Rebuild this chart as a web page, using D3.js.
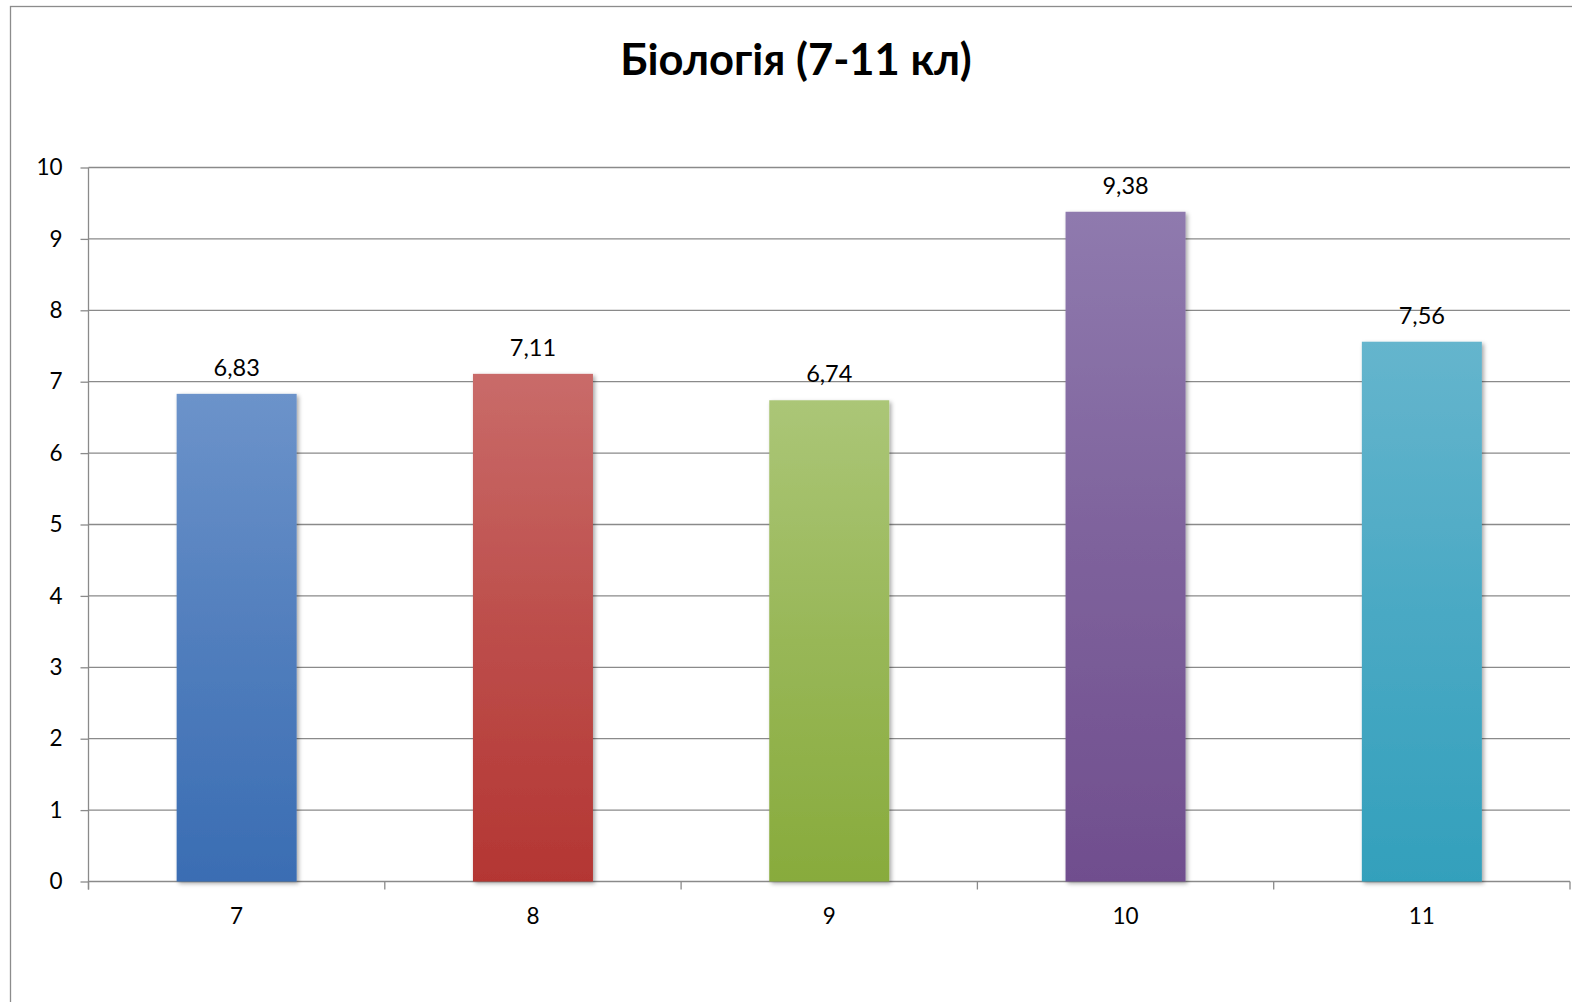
<!DOCTYPE html>
<html><head><meta charset="utf-8">
<script src="https://cdn.jsdelivr.net/npm/d3@7"></script>
<style>body{margin:0;background:#fff}svg{display:block}</style>
</head><body>
<svg id="c" width="1572" height="1002"></svg>
<script>
const categories = ["7","8","9","10","11"];
const values = [6.83, 7.11, 6.74, 9.38, 7.56];
const valueLabels = ["6,83","7,11","6,74","9,38","7,56"];
const yTicks = [0,1,2,3,4,5,6,7,8,9,10];
const colorsTop = ["#6c93ca","#c96b69","#abc677","#8f7aae","#65b5cd"];
const colorsBottom = ["#3a6db3","#b43633","#88ab3c","#704e8e","#33a0bc"];
const title = "Біологія (7-11 кл)";

const svg = d3.select("#c");
const font = "Lato, 'Open Sans', 'Noto Sans', sans-serif";
const m = {left:88.5, right:1570, top:167.5, bottom:881.5};

svg.append("rect").attr("x",10.5).attr("y",6.5).attr("width",1600).attr("height",1100)
  .attr("fill","#fff").attr("stroke","#8c8c8c").attr("stroke-width",1.3);

const defs = svg.append("defs");
categories.forEach((c,i)=>{
  const g = defs.append("linearGradient").attr("id","g"+i).attr("x1",0).attr("y1",0).attr("x2",0).attr("y2",1);
  g.append("stop").attr("offset","0%").attr("stop-color",colorsTop[i]);
  g.append("stop").attr("offset","50%").attr("stop-color",d3.interpolateRgb(colorsTop[i],colorsBottom[i])(0.55));
  g.append("stop").attr("offset","100%").attr("stop-color",colorsBottom[i]);
});
const f = defs.append("filter").attr("id","sh").attr("x","-10%").attr("y","-10%").attr("width","130%").attr("height","130%");
f.append("feDropShadow").attr("dx",2).attr("dy",2).attr("stdDeviation",2).attr("flood-color","#000").attr("flood-opacity",0.35);

const x = d3.scaleBand().domain(categories).range([m.left,m.right]).paddingInner(0.595).paddingOuter(0.2975);
const xb = d3.scaleBand().domain(categories).range([m.left,m.right]);
const y = d3.scaleLinear().domain([0,10]).range([m.bottom,m.top]);

// gridlines
svg.append("g").selectAll("line").data(yTicks.filter(d=>d>0)).join("line")
  .attr("x1",m.left).attr("x2",m.right).attr("y1",d=>y(d)).attr("y2",d=>y(d))
  .attr("stroke","#8a8a8a").attr("stroke-width",1.3);

// y axis
const ya = svg.append("g").attr("transform",`translate(${m.left},0)`)
  .call(d3.axisLeft(y).tickValues(yTicks).tickSize(8).tickPadding(18).tickFormat(d=>d));
ya.select(".domain").attr("stroke","#8a8a8a").attr("stroke-width",1.3).attr("d",`M-0,${m.top}V${m.bottom+8}`);
ya.selectAll(".tick line").attr("stroke","#8a8a8a").attr("stroke-width",1.3);
ya.selectAll("text").attr("font-family",font).attr("font-size",22.5).attr("fill","#000");

// x axis
const xa = svg.append("g").attr("transform",`translate(0,${m.bottom})`)
  .call(d3.axisBottom(x).tickSize(0).tickPadding(27));
xa.select(".domain").remove();
xa.selectAll("text").attr("font-family",font).attr("font-size",22.5).attr("fill","#000");
svg.append("line").attr("x1",m.left).attr("x2",m.right).attr("y1",m.bottom).attr("y2",m.bottom)
  .attr("stroke","#8a8a8a").attr("stroke-width",1.3);
svg.append("g").selectAll("line").data(categories.concat(["end"])).join("line")
  .attr("x1",(d,i)=> i<categories.length ? xb(d) : m.right)
  .attr("x2",(d,i)=> i<categories.length ? xb(d) : m.right)
  .attr("y1",m.bottom).attr("y2",m.bottom+8)
  .attr("stroke","#8a8a8a").attr("stroke-width",1.3);

// bars
svg.append("g").selectAll("rect").data(values).join("rect")
  .attr("x",(d,i)=>x(categories[i])).attr("width",x.bandwidth())
  .attr("y",d=>y(d)).attr("height",d=>m.bottom-y(d))
  .attr("fill",(d,i)=>`url(#g${i})`).attr("filter","url(#sh)");

// labels
svg.append("g").selectAll("text").data(values).join("text")
  .attr("x",(d,i)=>x(categories[i])+x.bandwidth()/2).attr("y",d=>y(d)-18)
  .attr("text-anchor","middle").attr("font-family",font).attr("font-size",23.5).attr("fill","#000")
  .text((d,i)=>valueLabels[i]);

svg.append("text").attr("x",796).attr("y",75).attr("text-anchor","middle")
  .attr("font-family",font).attr("font-weight","bold").attr("font-size",43.5).attr("fill","#000").text(title);
</script>
</body></html>
